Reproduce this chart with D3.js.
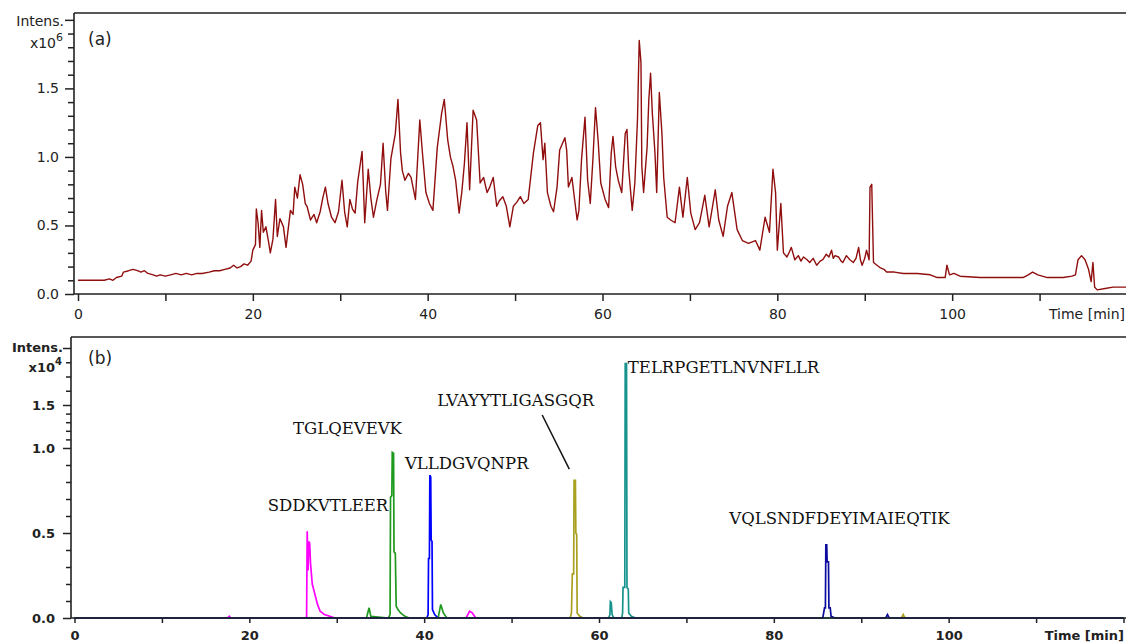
<!DOCTYPE html>
<html>
<head>
<meta charset="utf-8">
<script src="https://cdn.jsdelivr.net/npm/d3@7"></script>
<style>
  body { margin: 0; background: #fff; }
  svg { display: block; }
</style>
</head>
<body>
<div id="chart"></div>
<script>
var w = 1126;
var h = 644;

// (a) total ion chromatogram, [time min, intensity x10^6]
var ticTrace = [
  [0, 0.10], [3.0, 0.10], [3.6, 0.11], [4.0, 0.10], [4.4, 0.12], [5.0, 0.13], [5.2, 0.16], [5.8, 0.17],
  [6.3, 0.18], [6.8, 0.17], [7.2, 0.16], [7.6, 0.17], [8.0, 0.15], [8.6, 0.14], [9.0, 0.13], [9.4, 0.14],
  [10.0, 0.13], [10.6, 0.14], [11.2, 0.15], [11.8, 0.14], [12.4, 0.15], [13.0, 0.14], [13.6, 0.15],
  [14.2, 0.15], [15.0, 0.16], [15.6, 0.17], [16.2, 0.17], [16.8, 0.18], [17.4, 0.19], [17.8, 0.21],
  [18.2, 0.19], [18.6, 0.20], [19.0, 0.22], [19.4, 0.21], [19.8, 0.24], [20.0, 0.32], [20.3, 0.36],
  [20.4, 0.62], [20.6, 0.52], [20.8, 0.34], [21.0, 0.61], [21.2, 0.45], [21.5, 0.49], [21.8, 0.38],
  [22.0, 0.30], [22.3, 0.40], [22.6, 0.69], [22.8, 0.42], [23.1, 0.55], [23.5, 0.49], [23.8, 0.34],
  [24.0, 0.45], [24.3, 0.61], [24.6, 0.58], [24.8, 0.78], [25.1, 0.70], [25.4, 0.87], [25.7, 0.80],
  [26.0, 0.66], [26.2, 0.64], [26.6, 0.54], [27.0, 0.58], [27.3, 0.52], [27.7, 0.60], [28.0, 0.70],
  [28.3, 0.78], [28.6, 0.66], [29.0, 0.56], [29.4, 0.52], [29.8, 0.60], [30.2, 0.83], [30.5, 0.60],
  [30.8, 0.49], [31.1, 0.69], [31.4, 0.62], [31.7, 0.59], [32.0, 0.82], [32.5, 1.04], [32.8, 0.52],
  [33.2, 0.91], [33.5, 0.70], [33.8, 0.56], [34.2, 0.69], [34.6, 0.80], [34.9, 1.10], [35.2, 0.75],
  [35.4, 0.61], [35.8, 0.99], [36.3, 1.17], [36.6, 1.42], [36.9, 1.03], [37.1, 0.90], [37.4, 0.83],
  [37.8, 0.88], [38.1, 0.85], [38.6, 0.69], [39.1, 1.27], [39.4, 1.03], [39.8, 0.74], [40.2, 0.66],
  [40.6, 0.61], [41.1, 1.07], [41.6, 1.32], [41.9, 1.42], [42.3, 1.12], [42.6, 1.00], [42.9, 0.93],
  [43.2, 0.83], [43.6, 0.59], [43.9, 0.74], [44.2, 0.95], [44.5, 1.25], [44.8, 0.76], [45.2, 1.34],
  [45.6, 1.27], [46.0, 0.81], [46.4, 0.85], [46.8, 0.74], [47.1, 0.78], [47.5, 0.85], [47.9, 0.64],
  [48.2, 0.68], [48.6, 0.71], [49.0, 0.64], [49.4, 0.49], [49.8, 0.64], [50.2, 0.67], [50.6, 0.71],
  [51.0, 0.66], [51.5, 0.69], [52.1, 1.03], [52.6, 1.23], [52.9, 1.25], [53.2, 0.98], [53.4, 1.10],
  [53.7, 0.74], [54.1, 0.64], [54.4, 0.60], [54.8, 0.78], [55.1, 1.05], [55.7, 1.14], [55.9, 1.05],
  [56.1, 0.78], [56.5, 0.85], [57.1, 0.54], [57.3, 0.61], [57.6, 0.98], [58.0, 1.29], [58.3, 0.83],
  [58.6, 0.66], [58.9, 0.98], [59.2, 1.36], [59.5, 1.12], [59.8, 0.81], [60.3, 0.69], [60.7, 0.63],
  [61.0, 1.03], [61.2, 1.15], [61.5, 0.93], [61.8, 0.83], [62.2, 0.74], [62.6, 1.17], [62.8, 1.20],
  [63.0, 0.91], [63.4, 0.61], [63.7, 0.81], [64.0, 1.27], [64.2, 1.85], [64.4, 1.69], [64.5, 0.93],
  [64.7, 0.74], [65.1, 1.07], [65.3, 1.42], [65.5, 1.61], [65.7, 1.32], [66.0, 1.03], [66.2, 0.74],
  [66.5, 1.47], [66.8, 1.17], [67.0, 0.85], [67.4, 0.56], [67.8, 0.54], [68.3, 0.52], [68.8, 0.78],
  [69.2, 0.56], [69.7, 0.85], [70.1, 0.59], [70.6, 0.47], [71.1, 0.52], [71.7, 0.72], [72.2, 0.49],
  [72.9, 0.76], [73.3, 0.54], [73.8, 0.42], [74.3, 0.64], [74.8, 0.74], [75.4, 0.47], [76.0, 0.39],
  [76.7, 0.37], [77.5, 0.39], [78.0, 0.32], [78.6, 0.56], [79.1, 0.45], [79.5, 0.91], [79.8, 0.74],
  [80.0, 0.32], [80.4, 0.66], [80.7, 0.30], [81.1, 0.27], [81.4, 0.31], [81.6, 0.34], [82.0, 0.25],
  [82.4, 0.28], [82.7, 0.24], [83.0, 0.27], [83.4, 0.25], [83.7, 0.23], [84.1, 0.26], [84.5, 0.21],
  [84.9, 0.24], [85.2, 0.25], [85.6, 0.29], [85.9, 0.27], [86.2, 0.32], [86.4, 0.26], [86.6, 0.28],
  [87.0, 0.27], [87.3, 0.24], [87.5, 0.23], [87.9, 0.28], [88.3, 0.25], [88.7, 0.23], [89.0, 0.26],
  [89.3, 0.34], [89.5, 0.25], [89.7, 0.21], [90.0, 0.26], [90.2, 0.32], [90.5, 0.25], [90.6, 0.78],
  [90.8, 0.80], [91.0, 0.23], [91.4, 0.21], [91.8, 0.19], [92.2, 0.18], [92.5, 0.16], [93.4, 0.16],
  [94.4, 0.15], [96.0, 0.15], [97.5, 0.14], [98.3, 0.12], [99.2, 0.12], [99.4, 0.21], [99.7, 0.14],
  [100.2, 0.15], [100.9, 0.13], [103.2, 0.12], [106.0, 0.12], [108.1, 0.12], [108.7, 0.14],
  [109.2, 0.16], [109.8, 0.14], [110.9, 0.12], [112.7, 0.12], [113.7, 0.13], [114.1, 0.14],
  [114.4, 0.25], [114.8, 0.28], [115.2, 0.25], [115.6, 0.18], [115.9, 0.09], [116.1, 0.23],
  [116.3, 0.05], [116.6, 0.03], [117.5, 0.04], [118.4, 0.05], [120.0, 0.05]
];

// (b) extracted ion chromatograms, [time min, intensity x10^4]
var peptides = ["SDDKVTLEER", "TGLQEVEVK", "VLLDGVQNPR", "LVAYYTLIGASGQR", "TELRPGETLNVNFLLR", "VQLSNDFDEYIMAIEQTIK"];
var peptideColors = ["#ff00ff", "#1f9a1f", "#0000ff", "#aaa020", "#17938d", "#0b0b9e"];

var eicSDDK = [
  [0, 0], [17.5, 0], [17.7, 0.01], [17.9, 0], [26.55, 0], [26.62, 0.51], [26.72, 0.28], [26.8, 0.45],
  [26.9, 0.44], [27.0, 0.32], [27.2, 0.20], [27.5, 0.14], [27.8, 0.08], [28.1, 0.04], [28.6, 0.02],
  [29.2, 0.01], [29.8, 0], [44.8, 0], [45.2, 0.04], [45.5, 0.03], [45.9, 0], [120, 0]
];
var eicTGLQ = [
  [0, 0], [33.4, 0], [33.7, 0.06], [33.9, 0.01], [35.9, 0], [36.1, 0.02], [36.15, 0.71], [36.3, 0.72],
  [36.35, 0.975], [36.5, 0.97], [36.55, 0.39], [36.7, 0.38], [36.8, 0.07], [37.0, 0.05], [37.3, 0.03],
  [37.8, 0.01], [38.3, 0], [41.6, 0], [41.9, 0.08], [42.2, 0.03], [42.6, 0], [120, 0]
];
var eicVLLD = [
  [0, 0], [40.3, 0], [40.45, 0.02], [40.5, 0.35], [40.6, 0.35], [40.65, 0.84], [40.75, 0.83],
  [40.8, 0.46], [40.9, 0.45], [40.95, 0.05], [41.2, 0.02], [41.6, 0], [120, 0]
];
var eicLVAY = [
  [0, 0], [56.7, 0], [56.85, 0.03], [56.95, 0.26], [57.1, 0.26], [57.15, 0.81], [57.3, 0.81],
  [57.35, 0.50], [57.45, 0.49], [57.5, 0.03], [57.8, 0.01], [58.2, 0], [94.6, 0], [94.8, 0.02],
  [95.0, 0], [120, 0]
];
var eicTELR = [
  [0, 0], [61.1, 0], [61.25, 0.02], [61.3, 0.096], [61.4, 0.09], [61.5, 0.02], [61.7, 0], [62.6, 0],
  [62.7, 0.03], [62.75, 0.18], [62.95, 0.18], [63.0, 1.79], [63.15, 1.79], [63.2, 0.18], [63.35, 0.17],
  [63.4, 0.03], [63.7, 0.01], [64.2, 0], [120, 0]
];
var eicVQLS = [
  [0, 0], [85.6, 0], [85.8, 0.06], [85.9, 0.06], [85.95, 0.43], [86.05, 0.43], [86.1, 0.33],
  [86.25, 0.33], [86.3, 0.06], [86.45, 0.06], [86.55, 0.01], [87.0, 0], [92.8, 0], [93.0, 0.02],
  [93.2, 0], [120, 0]
];
var eicTraces = [eicSDDK, eicTGLQ, eicVLLD, eicLVAY, eicTELR, eicVQLS];

// label anchors in (b) data units [time, intensity]
var labelAnchors = [[22.1, 0.63], [25.0, 1.16], [37.8, 0.876], [41.5, 1.488], [63.3, 1.725], [74.9, 0.553]];
var leader = [[53.5, 1.384], [56.6, 0.876]];

var xTicks = d3.range(0, 121, 10);
var yTicksA = d3.range(0, 21).map(function (d) { return d / 10; });
var yTicksB = d3.range(0, 20).map(function (d) { return d / 10; });
var yLabels = [0, 0.5, 1.0, 1.5];

var xa = d3.scaleLinear().domain([0, 120]).range([78, 1127]);
var ya = d3.scaleLinear().domain([0, 2.05]).range([294, 13]);
var xb = d3.scaleLinear().domain([0, 120]).range([74.5, 1123.5]);
var yb = d3.scaleLinear().domain([0, 1.0, 1.5, 1.9, 1.98]).range([618, 448, 405, 348, 337]);

var svg = d3.select("#chart").append("svg")
  .attr("width", w)
  .attr("height", h);

var isLabel = function (d) {
  return yLabels.some(function (v) { return Math.abs(v - d) < 1e-6; });
};

// ---------- panel (a)
var ga = svg.append("g").attr("font-family", "DejaVu Sans").attr("font-size", 14);

ga.append("path")
  .datum(ticTrace)
  .attr("fill", "none")
  .attr("stroke", "#900e0e")
  .attr("stroke-width", 1.4)
  .attr("stroke-linejoin", "round")
  .attr("d", d3.line()
    .x(function (d) { return xa(d[0]); })
    .y(function (d) { return ya(d[1]); }));

var axA = ga.append("g")
  .attr("transform", "translate(0,294)")
  .call(d3.axisBottom(xa).tickValues(xTicks).tickSize(7).tickPadding(8)
    .tickFormat(function (d) { return (d % 20 === 0 && d < 120) ? d : ""; }));
axA.select(".domain").remove();
axA.selectAll("line").attr("stroke", "#222").attr("stroke-width", 1.5);
axA.selectAll("text").attr("font-family", "DejaVu Sans").attr("font-size", 14).attr("fill", "#222");

var ayA = ga.append("g")
  .attr("transform", "translate(74,0)")
  .call(d3.axisLeft(ya).tickValues(yTicksA).tickSize(6).tickPadding(9)
    .tickFormat(function (d) { return isLabel(d) ? d.toFixed(1) : ""; }));
ayA.select(".domain").remove();
ayA.selectAll("line").attr("stroke", "#222").attr("stroke-width", 1.5)
  .attr("x2", function (d) { return (isLabel(d) || d > 1.95) ? -9 : -6; });
ayA.selectAll("text").attr("font-family", "DejaVu Sans").attr("font-size", 14).attr("fill", "#222");

ga.append("path")
  .attr("d", "M74,13H1126M74,13V294M74,294H1126")
  .attr("fill", "none").attr("stroke", "#222").attr("stroke-width", 1.6);

ga.append("text").attr("x", 64).attr("y", 26).attr("text-anchor", "end").attr("fill", "#222").text("Intens.");
var tA = ga.append("text").attr("x", 63).attr("y", 48).attr("text-anchor", "end").attr("fill", "#222");
tA.append("tspan").text("x10");
tA.append("tspan").attr("dy", -7).attr("font-size", 11).text("6");
ga.append("text").attr("x", 88).attr("y", 45).attr("font-size", 17).attr("fill", "#222").text("(a)");
ga.append("text").attr("x", 1125).attr("y", 319).attr("text-anchor", "end").attr("fill", "#222").text("Time [min]");

// ---------- panel (b)
var gb = svg.append("g").attr("font-family", "DejaVu Sans").attr("font-size", 13).attr("font-weight", "bold");

var lineB = d3.line()
  .x(function (d) { return xb(d[0]); })
  .y(function (d) { return yb(d[1]); });

gb.selectAll("path.eic")
  .data(eicTraces)
  .join("path")
  .attr("class", "eic")
  .attr("fill", "none")
  .attr("stroke", function (d, i) { return peptideColors[i]; })
  .attr("stroke-width", 1.7)
  .attr("d", lineB);

var axB = gb.append("g")
  .attr("transform", "translate(0,618)")
  .call(d3.axisBottom(xb).tickValues(xTicks).tickSize(5).tickPadding(8)
    .tickFormat(function (d) { return (d % 20 === 0 && d < 120) ? d : ""; }));
axB.select(".domain").remove();
axB.selectAll("line").attr("stroke", "#222").attr("stroke-width", 1.5);
axB.selectAll("text").attr("font-family", "DejaVu Sans").attr("font-size", 13).attr("font-weight", "bold").attr("fill", "#222");

var ayB = gb.append("g")
  .attr("transform", "translate(71,0)")
  .call(d3.axisLeft(yb).tickValues(yTicksB).tickSize(5).tickPadding(11)
    .tickFormat(function (d) { return isLabel(d) ? d.toFixed(1) : ""; }));
ayB.select(".domain").remove();
ayB.selectAll("line").attr("stroke", "#222").attr("stroke-width", 1.5)
  .attr("x2", function (d) { return (isLabel(d) || d > 1.85) ? -8 : -5; });
ayB.selectAll("text").attr("font-family", "DejaVu Sans").attr("font-size", 13).attr("font-weight", "bold").attr("fill", "#222");

gb.append("path")
  .attr("d", "M71,337H1126M71,337V618M71,618H1126")
  .attr("fill", "none").attr("stroke", "#222").attr("stroke-width", 1.6);

gb.append("text").attr("x", 63).attr("y", 352).attr("text-anchor", "end").attr("fill", "#222").text("Intens.");
var tB = gb.append("text").attr("x", 62).attr("y", 372).attr("text-anchor", "end").attr("fill", "#222");
tB.append("tspan").text("x10");
tB.append("tspan").attr("dy", -7).attr("font-size", 10).text("4");
gb.append("text").attr("x", 88).attr("y", 364).attr("font-size", 17).attr("font-weight", "normal").attr("fill", "#222").text("(b)");
gb.append("text").attr("x", 1124).attr("y", 640).attr("text-anchor", "end").attr("fill", "#222").text("Time [min]");

// peptide labels
gb.selectAll("text.pep")
  .data(peptides)
  .join("text")
  .attr("class", "pep")
  .attr("x", function (d, i) { return xb(labelAnchors[i][0]); })
  .attr("y", function (d, i) { return yb(labelAnchors[i][1]); })
  .attr("font-family", "DejaVu Serif")
  .attr("font-size", 16.5)
  .attr("font-weight", "normal")
  .attr("fill", "#111")
  .text(function (d) { return d; });

gb.append("line")
  .attr("x1", xb(leader[0][0])).attr("y1", yb(leader[0][1]))
  .attr("x2", xb(leader[1][0])).attr("y2", yb(leader[1][1]))
  .attr("stroke", "#111").attr("stroke-width", 1.5);
</script>
</body>
</html>
